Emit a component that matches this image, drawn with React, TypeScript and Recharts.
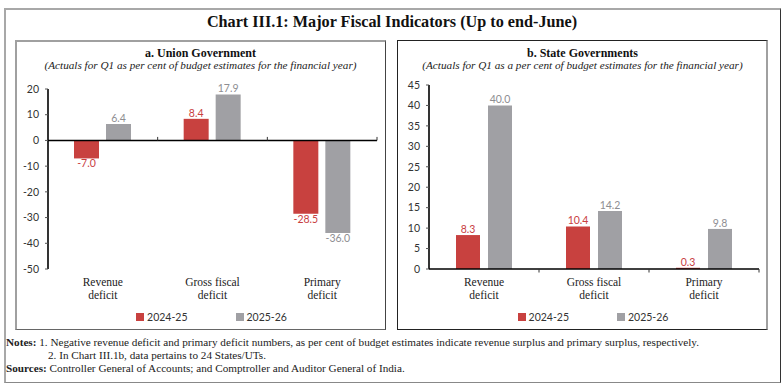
import React from 'react';
import { BarChart, Bar, XAxis, YAxis, Legend, LabelList, ReferenceLine } from 'recharts';

const categories = ['Revenue deficit', 'Gross fiscal deficit', 'Primary deficit'];
const categoryLines = [
  ['Revenue', 'deficit'],
  ['Gross fiscal', 'deficit'],
  ['Primary', 'deficit'],
];
const seriesNames = ['2024-25', '2025-26'];
const unionFY25 = [-7.0, 8.4, -28.5];
const unionFY26 = [6.4, 17.9, -36.0];
const stateFY25 = [8.3, 10.4, 0.3];
const stateFY26 = [40.0, 14.2, 9.8];
const unionTicks = [-50, -40, -30, -20, -10, 0, 10, 20];
const stateTicks = [0, 5, 10, 15, 20, 25, 30, 35, 40, 45];

const RED = '#C8413F';
const GRAY = '#A0A0A4';
const RED_TXT = '#C9403F';
const GRAY_TXT = '#8E8E92';
const SANS = 'Lato, "Liberation Sans", sans-serif';
const SERIF = '"Liberation Serif", serif';

const unionData = categories.map((c, i) => ({ cat: c, a: unionFY25[i], b: unionFY26[i] }));
const stateData = categories.map((c, i) => ({ cat: c, a: stateFY25[i], b: stateFY26[i] }));

const CatTick = (props: any) => {
  const { x, y, payload } = props;
  const idx = categories.indexOf(payload.value);
  const lines = categoryLines[idx] || [payload.value, ''];
  return (
    <text x={x} y={y} textAnchor="middle" fontFamily={SERIF} fontSize={11.5} fill="#222">
      <tspan x={x} dy={17}>{lines[0]}</tspan>
      <tspan x={x} dy={13}>{lines[1]}</tspan>
    </text>
  );
};

const makeLabel = (color: string) => (props: any) => {
  const { x, y, width, height, value } = props;
  const top = Math.min(y, y + height);
  const bottom = Math.max(y, y + height);
  const neg = Number(value) < 0;
  const ty = neg ? bottom + 9 : top - 2;
  return (
    <text x={x + width / 2} y={ty} textAnchor="middle" fontFamily={SANS} fontSize={10.5} fill={color}>
      {Number(value).toFixed(1)}
    </text>
  );
};

const makeZeroAxis = (dir: number) => (p: any) => {
  const { x1, y1, x2 } = p;
  const n = categories.length;
  const marks = [];
  for (let k = 1; k <= n; k++) {
    const tx = x1 + ((x2 - x1) * k) / n;
    marks.push(<line key={k} x1={tx} x2={tx} y1={y1} y2={y1 + dir * 3.5} stroke="#333" strokeWidth={1} />);
  }
  return (
    <g>
      <line x1={x1} y1={y1} x2={x2} y2={y1} stroke="#000" strokeWidth={1.6} />
      {marks}
    </g>
  );
};

const LegendBox = () => (
  <div style={{ height: 16, display: 'flex', justifyContent: 'center', alignItems: 'center', gap: 48, paddingLeft: 26, fontFamily: SANS, fontSize: 10.5, color: '#333' }}>
    {seriesNames.map((s, i) => (
      <div key={s} style={{ display: 'flex', alignItems: 'center' }}>
        <span style={{ display: 'inline-block', width: 8, height: 8, background: i === 0 ? RED : GRAY, marginRight: 3 }} />
        <span>{s}</span>
      </div>
    ))}
  </div>
);

const Panel = (props: any) => {
  const { data, ticks, domain, left, marginTop, marginLeft, gap, barSize, dir } = props;
  return (
    <div style={{ position: 'absolute', left, top: 75 }}>
      <BarChart width={371} height={260} data={data} margin={{ top: marginTop, right: 9, left: marginLeft, bottom: 10 }} barGap={gap}>
        <XAxis dataKey="cat" axisLine={false} tickLine={false} tickSize={0} tickMargin={0} height={40} interval={0} tick={<CatTick />} />
        <YAxis
          domain={domain}
          ticks={ticks}
          interval={0}
          width={28}
          axisLine={{ stroke: '#000', strokeWidth: 1.6 }}
          tickLine={{ stroke: '#555' }}
          tickSize={3}
          tickMargin={6}
          tick={{ fontSize: 10.5, fill: '#333', fontFamily: SANS }}
        />
        <Legend verticalAlign="bottom" content={() => <LegendBox />} />
        <Bar dataKey="a" name={seriesNames[0]} fill={RED} barSize={barSize} isAnimationActive={false}>
          <LabelList dataKey="a" content={makeLabel(RED_TXT)} />
        </Bar>
        <Bar dataKey="b" name={seriesNames[1]} fill={GRAY} barSize={barSize} isAnimationActive={false}>
          <LabelList dataKey="b" content={makeLabel(GRAY_TXT)} />
        </Bar>
        <ReferenceLine y={0} shape={makeZeroAxis(dir)} />
      </BarChart>
    </div>
  );
};

const noteStyle: React.CSSProperties = { position: 'absolute', fontFamily: SERIF, fontSize: 11.2, color: '#222', whiteSpace: 'nowrap' };

export default function App() {
  return (
    <div style={{ position: 'absolute', left: 0, top: 0, width: 784, height: 388, background: '#fff', overflow: 'hidden' }}>
      <div style={{ position: 'absolute', left: 4, top: 8, width: 774, height: 372, borderTop: '2px solid #A8A8A8', borderLeft: '2px solid #A8A8A8', borderRight: '1px solid #333', borderBottom: '1px solid #888' }} />
      <div style={{ position: 'absolute', left: 0, top: 13, width: 784, textAlign: 'center', fontFamily: SERIF, fontWeight: 'bold', fontSize: 16.2, color: '#111' }}>
        Chart III.1: Major Fiscal Indicators (Up to end-June)
      </div>

      <div style={{ position: 'absolute', left: 15, top: 40, width: 368, height: 287, borderTop: '2px solid #A0A0A0', borderLeft: '2px solid #A0A0A0', borderRight: '1px solid #444', borderBottom: '1px solid #666' }} />
      <div style={{ position: 'absolute', left: 397, top: 40, width: 368, height: 288, borderTop: '1px solid #222', borderLeft: '1px solid #222', borderRight: '2px solid #A0A0A0', borderBottom: '1px solid #222' }} />

      <div style={{ position: 'absolute', left: 15, top: 46, width: 371, textAlign: 'center', fontFamily: SERIF, fontWeight: 'bold', fontSize: 12, color: '#111' }}>a. Union Government</div>
      <div style={{ position: 'absolute', left: 15, top: 59, width: 371, textAlign: 'center', fontFamily: SERIF, fontStyle: 'italic', fontSize: 11.2, color: '#222' }}>(Actuals for Q1 as per cent of budget estimates for the financial year)</div>
      <div style={{ position: 'absolute', left: 397, top: 46, width: 371, textAlign: 'center', fontFamily: SERIF, fontWeight: 'bold', fontSize: 12, color: '#111' }}>b. State Governments</div>
      <div style={{ position: 'absolute', left: 397, top: 59, width: 371, textAlign: 'center', fontFamily: SERIF, fontStyle: 'italic', fontSize: 11.2, color: '#222' }}>(Actuals for Q1 as a per cent of budget estimates for the financial year)</div>

      <Panel data={unionData} ticks={unionTicks} domain={[-50, 20]} left={15} marginTop={14} marginLeft={5} gap={7} barSize={25} dir={-1} />
      <Panel data={stateData} ticks={stateTicks} domain={[0, 45]} left={397} marginTop={10} marginLeft={4} gap={8} barSize={24} dir={1} />

      <div style={{ ...noteStyle, left: 6, top: 336 }}>
        <b>Notes:</b> 1. Negative revenue deficit and primary deficit numbers, as per cent of budget estimates indicate revenue surplus and primary surplus, respectively.
      </div>
      <div style={{ ...noteStyle, left: 48, top: 349 }}>
        2. In Chart III.1b, data pertains to 24 States/UTs.
      </div>
      <div style={{ ...noteStyle, left: 6, top: 362 }}>
        <b>Sources:</b> Controller General of Accounts; and Comptroller and Auditor General of India.
      </div>
    </div>
  );
}
